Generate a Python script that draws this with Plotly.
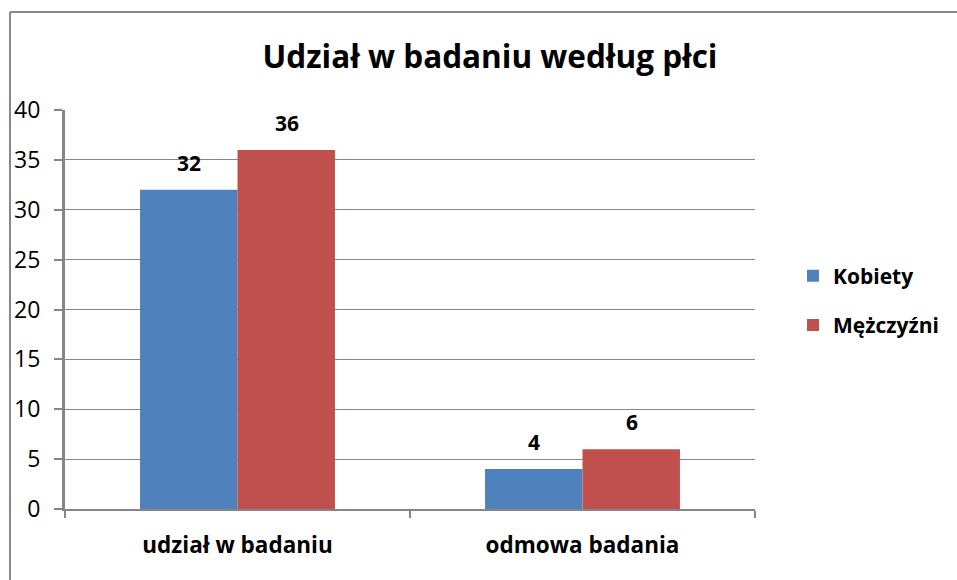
import plotly.graph_objects as go

categories = ["udział w badaniu", "odmowa badania"]
kobiety = [32, 4]
mezczyzni = [36, 6]
series_names = ["Kobiety", "Mężczyźni"]
title_text = "Udział w badaniu według płci"
y_ticks = [0, 5, 10, 15, 20, 25, 30, 35, 40]

FONT = "'Open Sans', Lato, sans-serif"
GRID = "#868686"
COLORS = ["#4F81BD", "#C0504D"]

fig = go.Figure()
series = [kobiety, mezczyzni]
for i, (name, vals) in enumerate(zip(series_names, series)):
    fig.add_trace(go.Bar(
        x=categories, y=vals, name=name, legendgroup=name,
        marker=dict(color=COLORS[i], line=dict(width=0)),
    ))
    for cat, v in zip(categories, vals):
        fig.add_annotation(
            x=cat, y=v, xref="x", yref="y", text="<b>%d</b>" % v,
            showarrow=False, yanchor="bottom", xanchor="center",
            xshift=(-49 if i == 0 else 49), yshift=11,
            font=dict(family=FONT, size=21, color="black"),
        )

fig.update_layout(
    width=957, height=580,
    margin=dict(l=65, r=202, t=110, b=71),
    paper_bgcolor="white", plot_bgcolor="white",
    barmode="group", bargap=0.435, bargroupgap=0,
    title=dict(text="<b>" + title_text + "</b>", x=490 / 957, xanchor="center",
               y=1 - 57 / 580, yanchor="middle",
               font=dict(family=FONT, size=31.5, color="black")),
    legend=dict(x=(793 - 65) / 690, y=(509 - 300.5) / 399, xanchor="left", yanchor="middle",
                font=dict(family=FONT, size=21, color="black", weight="bold"),
                tracegroupgap=19, itemwidth=30, bgcolor="rgba(0,0,0,0)"),
    showlegend=True,
)
fig.update_xaxes(
    type="category", tickson="boundaries", ticks="outside", ticklen=7,
    tickcolor=GRID, tickwidth=2, showline=True, linecolor=GRID, linewidth=2,
    showgrid=False,
    tickfont=dict(family=FONT, size=22.5, color="black", weight="bold"),
    ticklabelstandoff=15,
)
fig.update_yaxes(
    range=[0, 40], tickvals=y_ticks, ticks="outside", ticklen=8,
    tickcolor=GRID, tickwidth=2, showline=True, linecolor=GRID, linewidth=3,
    showgrid=True, gridcolor=GRID, gridwidth=1.3, zeroline=False,
    tickfont=dict(family=FONT, size=23, color="black"),
    ticklabelstandoff=9,
)
# chart border (Excel-style outer frame: top and left edges visible)
px_x = lambda p: (p - 65) / 690
px_y = lambda p: (509 - p) / 399
fig.add_shape(type="line", xref="paper", yref="paper",
              x0=px_x(10), x1=px_x(957), y0=px_y(12), y1=px_y(12),
              line=dict(color="#888888", width=2), layer="above")
fig.add_shape(type="line", xref="paper", yref="paper",
              x0=px_x(10), x1=px_x(10), y0=px_y(12), y1=px_y(580),
              line=dict(color="#888888", width=2), layer="above")

fig.write_html("out.html", config={"displayModeBar": False},
               post_script=("document.documentElement.style.overflow='hidden';"
                            "document.body.style.margin='0';document.body.style.padding='0';"
                            "document.body.style.overflow='hidden';"))
